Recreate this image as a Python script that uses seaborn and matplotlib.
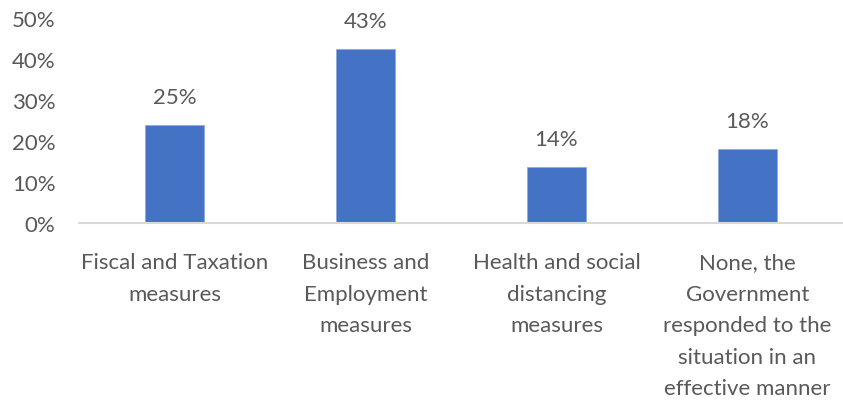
import matplotlib
matplotlib.use("Agg")
import matplotlib.pyplot as plt
import seaborn as sns
import pandas as pd

categories = [
    "Fiscal and Taxation\nmeasures",
    "Business and\nEmployment\nmeasures",
    "Health and social\ndistancing\nmeasures",
    "None, the\nGovernment\nresponded to the\nsituation in an\neffective manner",
]
values = [0.24, 0.424, 0.137, 0.18]
value_labels = ["25%", "43%", "14%", "18%"]
y_ticks = [0.0, 0.1, 0.2, 0.3, 0.4, 0.5]
y_tick_labels = ["0%", "10%", "20%", "30%", "40%", "50%"]

sns.set_style("white")
plt.rcParams["font.family"] = ["Lato", "DejaVu Sans"]

text_color = "#595959"
df = pd.DataFrame({"category": categories, "value": values})

fig = plt.figure(figsize=(8.43, 4.02), dpi=100)
ax = fig.add_axes([79 / 843, 1 - 224 / 402, 1 - 79 / 843, (224 - 19) / 402])

sns.barplot(data=df, x="category", y="value", color="#4472C4", width=0.31,
            saturation=1, ax=ax, edgecolor="#8faadc", linewidth=0.6)

ax.set_ylim(0, 0.5)
ax.set_xlim(-0.5, 3.5)
ax.set_yticks(y_ticks)
ax.set_yticklabels(y_tick_labels)
ax.set_xlabel("")
ax.set_ylabel("")

for s in ["top", "right", "left"]:
    ax.spines[s].set_visible(False)
ax.spines["bottom"].set_color("#d9d9d9")
ax.spines["bottom"].set_linewidth(1.5)

ax.tick_params(axis="both", length=0, labelsize=16, colors=text_color)
ax.tick_params(axis="y", pad=17)
ax.tick_params(axis="x", pad=21)
for lbl in ax.get_xticklabels():
    lbl.set_linespacing(1.72)
    lbl.set_ha("center")

ax.bar_label(ax.containers[0], labels=value_labels, padding=13,
             fontsize=16, color=text_color)

fig.savefig("out.png", dpi=100)
